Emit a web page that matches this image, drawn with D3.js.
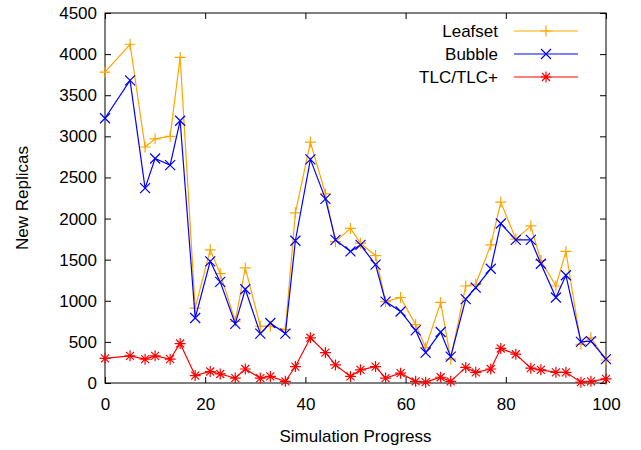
<!DOCTYPE html>
<html>
<head>
<meta charset="utf-8">
<script src="https://cdn.jsdelivr.net/npm/d3@7"></script>
<style>
  body { margin: 0; background: #fff; }
  text { font-family: "Liberation Sans", Arial, Helvetica, sans-serif; }
</style>
</head>
<body>
<div id="container"></div>
<script>
/* CONSTANTS AND GLOBALS */
const width = 641
const height = 450
const margin = { top: 13, bottom: 70, left: 105, right: 35 }

// simulation progress positions
const progress = [0, 5, 8, 10, 13, 15, 18, 21, 23, 26, 28, 31, 33, 36, 38, 41, 44, 46, 49, 51,
  54, 56, 59, 62, 64, 67, 69, 72, 74, 77, 79, 82, 85, 87, 90, 92, 95, 97, 100]

const leafset = [3780, 4120, 2870, 2970, 3000, 3960, 910, 1620, 1330, 750, 1400, 690, 690, 650, 2070, 2930, 2300, 1720, 1880, 1700,
  1550, 990, 1040, 710, 430, 980, 290, 1180, 1200, 1680, 2200, 1750, 1910, 1490, 1180, 1600, 470, 550, 280]

const bubble = [3220, 3680, 2370, 2730, 2650, 3190, 790, 1480, 1230, 720, 1140, 600, 730, 600, 1730, 2720, 2240, 1740, 1600, 1680,
  1440, 990, 870, 640, 370, 620, 320, 1020, 1160, 1390, 1940, 1740, 1740, 1450, 1040, 1310, 500, 510, 290]

const tlc = [300, 330, 290, 330, 290, 480, 90, 140, 110, 60, 170, 60, 80, 20, 200, 550, 370, 220, 80, 160,
  200, 60, 120, 20, 10, 70, 20, 190, 130, 170, 420, 350, 180, 160, 130, 130, 10, 20, 50]

const seriesNames = ["Leafset", "Bubble", "TLC/TLC+"]
const seriesColors = ["orange", "blue", "red"]
const xTicks = [0, 20, 40, 60, 80, 100]
const yTicks = [0, 500, 1000, 1500, 2000, 2500, 3000, 3500, 4000, 4500]

// marker shapes like gnuplot: plus, cross, star
const markers = {
  "Leafset": "M-5.5,0H5.5M0,-5.5V5.5",
  "Bubble": "M-5,-5L5,5M-5,5L5,-5",
  "TLC/TLC+": "M-5.5,0H5.5M0,-5.5V5.5M-4,-4L4,4M-4,4L4,-4"
}

const series = seriesNames.map((name, i) => {
  const vals = [leafset, bubble, tlc][i]
  return {
    name: name,
    color: seriesColors[i],
    values: progress.map((p, j) => ({ x: p, y: vals[j] }))
  }
})

/* SCALES */
const xScale = d3.scaleLinear()
  .domain([0, 100])
  .range([margin.left, width - margin.right])

const yScale = d3.scaleLinear()
  .domain([0, 4500])
  .range([height - margin.bottom + 3, margin.top])

const svg = d3.select("#container")
  .append("svg")
  .attr("width", width)
  .attr("height", height)

/* AXES (ticks inward, mirrored on top and right) */
const tickLen = 6

svg.append("g")
  .attr("transform", `translate(0, ${yScale(0)})`)
  .call(d3.axisBottom(xScale).tickValues(xTicks).tickSize(-tickLen).tickSizeOuter(0).tickPadding(15).tickFormat(d3.format("d")))
  .call(g => g.select(".domain").remove())
  .call(g => g.selectAll("text").style("font-size", "17px").attr("fill", "#000"))

svg.append("g")
  .attr("transform", `translate(0, ${yScale(4500)})`)
  .call(d3.axisTop(xScale).tickValues(xTicks).tickSize(-tickLen).tickSizeOuter(0).tickFormat(""))
  .call(g => g.select(".domain").remove())

svg.append("g")
  .attr("transform", `translate(${xScale(0)}, 0)`)
  .call(d3.axisLeft(yScale).tickValues(yTicks).tickSize(-tickLen).tickSizeOuter(0).tickPadding(8).tickFormat(d3.format("d")))
  .call(g => g.select(".domain").remove())
  .call(g => g.selectAll("text").style("font-size", "17px").attr("fill", "#000"))

svg.append("g")
  .attr("transform", `translate(${xScale(100)}, 0)`)
  .call(d3.axisRight(yScale).tickValues(yTicks).tickSize(-tickLen).tickSizeOuter(0).tickFormat(""))
  .call(g => g.select(".domain").remove())

// border
svg.append("rect")
  .attr("x", xScale(0))
  .attr("y", yScale(4500))
  .attr("width", xScale(100) - xScale(0))
  .attr("height", yScale(0) - yScale(4500))
  .attr("fill", "none")
  .attr("stroke", "#000")
  .attr("stroke-width", 1)

// axis labels
svg.append("text")
  .attr("x", (xScale(0) + xScale(100)) / 2)
  .attr("y", 442)
  .attr("text-anchor", "middle")
  .style("font-size", "17px")
  .text("Simulation Progress")

svg.append("text")
  .attr("transform", `translate(28, ${(yScale(0) + yScale(4500)) / 2}) rotate(-90)`)
  .attr("text-anchor", "middle")
  .style("font-size", "17px")
  .text("New Replicas")

/* LINES AND POINTS */
const line = d3.line()
  .x(d => xScale(d.x))
  .y(d => yScale(d.y))

const groups = svg.selectAll(".series")
  .data(series)
  .join("g")
  .attr("class", "series")

groups.append("path")
  .attr("d", d => line(d.values))
  .attr("fill", "none")
  .attr("stroke", d => d.color)
  .attr("stroke-width", 1.2)

groups.selectAll(".pt")
  .data(d => d.values.map(v => ({ ...v, name: d.name, color: d.color })))
  .join("path")
  .attr("class", "pt")
  .attr("transform", d => `translate(${xScale(d.x)},${yScale(d.y)})`)
  .attr("d", d => markers[d.name])
  .attr("fill", "none")
  .attr("stroke", d => d.color)
  .attr("stroke-width", 1.2)

/* LEGEND */
const legend = svg.selectAll(".legend")
  .data(series)
  .join("g")
  .attr("class", "legend")
  .attr("transform", (d, i) => `translate(0, ${31 + i * 23})`)

legend.append("text")
  .attr("x", 498)
  .attr("dy", "0.35em")
  .attr("text-anchor", "end")
  .style("font-size", "17px")
  .text(d => d.name)

legend.append("line")
  .attr("x1", 514)
  .attr("x2", 578)
  .attr("stroke", d => d.color)
  .attr("stroke-width", 1.2)

legend.append("path")
  .attr("transform", "translate(546,0)")
  .attr("d", d => markers[d.name])
  .attr("fill", "none")
  .attr("stroke", d => d.color)
  .attr("stroke-width", 1.2)
</script>
</body>
</html>
